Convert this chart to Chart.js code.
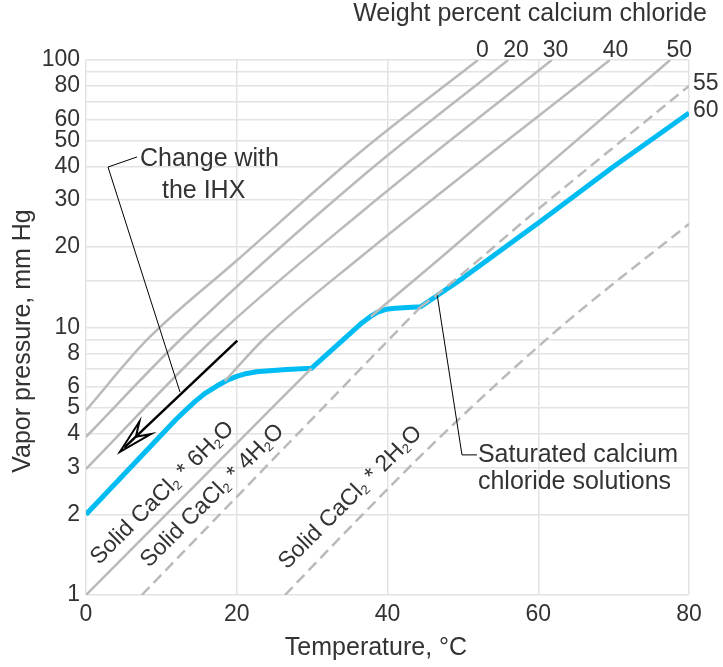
<!DOCTYPE html>
<html>
<head>
<meta charset="utf-8">
<script src="https://cdn.jsdelivr.net/npm/chart.js@4.4.1/dist/chart.umd.min.js"></script>
<style>
    html, body { margin: 0; padding: 0; background: #fff; }
</style>
</head>
<body>
<canvas id="vapor_Chart" width="723" height="667"></canvas>
<script>
var FONT = "'Liberation Sans', Arial, Helvetica, sans-serif";
var TEXT = '#333333';
var GRAY = '#bababa';
var BLUE = '#00bcf2';

// vapor pressure (mm Hg) against temperature (degC)
var wt0Temp = [0, 8.1, 20, 36.4, 52];
var wt0Pres = [4.9, 9.0, 17.8, 45.3, 100];
var wt20Temp = [0, 12.5, 36.4, 56];
var wt20Pres = [3.9, 9.0, 36.2, 100];
var wt30Temp = [0, 16.8, 36.4, 61.8];
var wt30Pres = [2.96, 9.0, 26.8, 100];
var wt40Temp = [18.4, 23.5, 36.4, 69.5];
var wt40Pres = [6.3, 9.0, 18.3, 100];
var wt50Temp = [37.8, 48, 60, 77.5];
var wt50Pres = [11.0, 19.2, 37.7, 100];
var wt55Temp = [44.4, 46.6, 60, 80];
var wt55Pres = [11.95, 13.3, 27.7, 80];

// saturated calcium chloride solutions
var satTemp = [0, 11.9, 13.3, 14.6, 15.9, 17.3, 18.6, 19.9, 21.2, 22.6, 23.9, 26.6, 29.9,
               36.6, 37.7, 38.7, 39.8, 41, 44.4, 50, 60, 70, 80];
var satPres = [2.0, 4.52, 4.93, 5.33, 5.7, 6.03, 6.32, 6.55, 6.72, 6.83, 6.88, 6.96, 7.04,
               10.4, 10.97, 11.42, 11.7, 11.81, 11.95, 15.3, 24.6, 40, 63.4];

// solid hydrates
var hexaTemp = [0, 15, 29.9];
var hexaPres = [1, 2.66, 7.04];
var tetraTemp = [7.4, 44.4];
var tetraPres = [1, 11.95];
var diTemp = [26.4, 36.4, 47, 62.9, 80];
var diPres = [1, 1.96, 3.9, 10, 24.4];

// axis ticks
var xTicks = [0, 20, 40, 60, 80];
var yTickLabels = [1, 2, 3, 4, 5, 6, 8, 10, 20, 30, 40, 50, 60, 80, 100];

// line labels
var topLabelText = ['0', '20', '30', '40', '50'];
var topLabelTemp = [52.6, 57.05, 62.3, 70.25, 78.7];
var sideLabelText = ['55', '60'];
var sideLabelPres = [80, 63.4];

// arrow "Change with the IHX" and the two leader lines
var arrowTemp = [20.07, 4.5];
var arrowPres = [8.93, 3.43];
var ihxLeaderTemp = [6.77, 2.92, 12.47];
var ihxLeaderPres = [43.4, 39.8, 5.74];
var satLeaderTemp = [46.6, 49.88, 51.87];
var satLeaderPres = [13.2, 3.34, 3.34];

var ctx = document.getElementById('vapor_Chart');

function toPoints(temps, pres) {
    return temps.map(function (t, i) {
        return { x: t, y: pres[i] };
    });
}

function grayLine(temps, pres, dashed) {
    return {
        data: toPoints(temps, pres),
        borderColor: GRAY,
        borderWidth: 2.5,
        borderDash: dashed ? [11, 6] : [],
        cubicInterpolationMode: 'monotone',
        pointRadius: 0,
        fill: false
    };
}

function drawFormula(c, parts, x, y, angle) {
    c.save();
    c.translate(x, y);
    c.rotate(angle);
    c.textAlign = 'left';
    c.textBaseline = 'alphabetic';
    var cx = 0;
    parts.forEach(function (p, i) {
        var sub = i % 2 === 1;
        c.font = (sub ? 13 : 23) + 'px ' + FONT;
        c.fillText(p, cx, sub ? 3 : 0);
        cx += c.measureText(p).width;
    });
    c.restore();
}

var annotations = {
    id: 'annotations',
    afterDatasetsDraw: function (chart) {
        var c = chart.ctx;
        var xs = chart.scales.x;
        var ys = chart.scales.y;
        var area = chart.chartArea;
        function px(t) { return xs.getPixelForValue(t); }
        function py(p) { return ys.getPixelForValue(p); }
        function polyline(temps, pres) {
            c.beginPath();
            temps.forEach(function (t, i) {
                if (i === 0) c.moveTo(px(t), py(pres[i]));
                else c.lineTo(px(t), py(pres[i]));
            });
            c.stroke();
        }

        c.save();
        c.strokeStyle = '#000';
        c.lineWidth = 1;
        polyline(ihxLeaderTemp, ihxLeaderPres);
        polyline(satLeaderTemp, satLeaderPres);

        // arrow with open barbed head
        var x0 = px(arrowTemp[0]), y0 = py(arrowPres[0]);
        var x1 = px(arrowTemp[1]), y1 = py(arrowPres[1]);
        var len = Math.hypot(x0 - x1, y0 - y1);
        var bx = (x0 - x1) / len, by = (y0 - y1) / len;
        function rot(a, l) {
            var ca = Math.cos(a), sa = Math.sin(a);
            return [x1 + l * (bx * ca - by * sa), y1 + l * (bx * sa + by * ca)];
        }
        var b1 = rot(0.24, 36), b2 = rot(-0.24, 36), notch = rot(0, 22);
        c.lineWidth = 2.5;
        c.beginPath();
        c.moveTo(x0, y0);
        c.lineTo(x1 + 6 * bx, y1 + 6 * by);
        c.stroke();
        c.lineWidth = 2;
        c.beginPath();
        c.moveTo(b1[0], b1[1]);
        c.lineTo(x1, y1);
        c.lineTo(b2[0], b2[1]);
        c.lineTo(notch[0], notch[1]);
        c.closePath();
        c.stroke();
        c.restore();

        c.save();
        c.fillStyle = TEXT;
        c.font = '25px ' + FONT;
        c.textBaseline = 'alphabetic';
        c.textAlign = 'left';
        c.fillText('Change with', px(7.16), py(40.2));
        c.fillText('the IHX', px(10.08), py(30.6));
        c.fillText('Saturated calcium', px(52.0), py(3.14));
        c.fillText('chloride solutions', px(52.0), py(2.49));

        c.font = '23px ' + FONT;
        c.textAlign = 'center';
        topLabelText.forEach(function (s, i) {
            c.fillText(s, px(topLabelTemp[i]), area.top - 3);
        });
        c.textAlign = 'left';
        sideLabelText.forEach(function (s, i) {
            c.fillText(s, area.right + 4, py(sideLabelPres[i]) + 4);
        });

        drawFormula(c, ['Solid CaCl', '2', ' * 6H', '2', 'O'], px(1.72), py(1.29), -Math.PI / 4);
        drawFormula(c, ['Solid CaCl', '2', ' * 4H', '2', 'O'], px(8.36), py(1.26), -Math.PI / 4);
        drawFormula(c, ['Solid CaCl', '2', ' * 2H', '2', 'O'], px(26.67), py(1.24), -Math.PI / 4);

        // titles
        c.font = '25px ' + FONT;
        c.textAlign = 'right';
        c.fillText('Weight percent calcium chloride', 707, 21);
        c.textAlign = 'center';
        c.fillText('Temperature, \u00B0C', 376, 655);
        c.save();
        c.translate(30, 341);
        c.rotate(-Math.PI / 2);
        c.fillText('Vapor pressure, mm Hg', 0, 0);
        c.restore();
        c.restore();
    }
};

var datasets = [
    grayLine(wt0Temp, wt0Pres, false),
    grayLine(wt20Temp, wt20Pres, false),
    grayLine(wt30Temp, wt30Pres, false),
    grayLine(wt40Temp, wt40Pres, false),
    grayLine(wt50Temp, wt50Pres, false),
    grayLine(wt55Temp, wt55Pres, true),
    grayLine(hexaTemp, hexaPres, false),
    grayLine(tetraTemp, tetraPres, true),
    grayLine(diTemp, diPres, true),
    {
        data: toPoints(satTemp, satPres),
        borderColor: BLUE,
        borderWidth: 5,
        borderJoinStyle: 'round',
        tension: 0,
        pointRadius: 0,
        fill: false
    }
];

var vaporChart = new Chart(ctx, {
    type: 'line',
    data: { datasets: datasets },
    options: {
        responsive: false,
        animation: false,
        layout: { padding: { top: 60, right: 34, left: 0, bottom: 0 } },
        plugins: {
            legend: { display: false },
            tooltip: { enabled: false }
        },
        scales: {
            x: {
                type: 'linear',
                min: 0,
                max: 80,
                afterBuildTicks: function (scale) {
                    scale.ticks = xTicks.map(function (v) { return { value: v }; });
                },
                ticks: {
                    padding: 6,
                    color: TEXT,
                    font: { family: FONT, size: 23 }
                },
                grid: { color: '#e3e3e3', lineWidth: 1.5, drawTicks: false },
                border: { display: false },
                afterFit: function (scale) { scale.height = 72; }
            },
            y: {
                type: 'logarithmic',
                min: 1,
                max: 100,
                ticks: {
                    autoSkip: false,
                    padding: 6,
                    color: TEXT,
                    font: { family: FONT, size: 23 },
                    callback: function (value) {
                        var hit = yTickLabels.some(function (v) { return Math.abs(v - value) < 1e-6; });
                        return hit ? String(value) : '';
                    }
                },
                grid: { color: '#e3e3e3', lineWidth: 1.5, drawTicks: false },
                border: { display: false },
                afterFit: function (scale) { scale.width = 86; }
            }
        }
    },
    plugins: [annotations]
});
</script>
</body>
</html>
